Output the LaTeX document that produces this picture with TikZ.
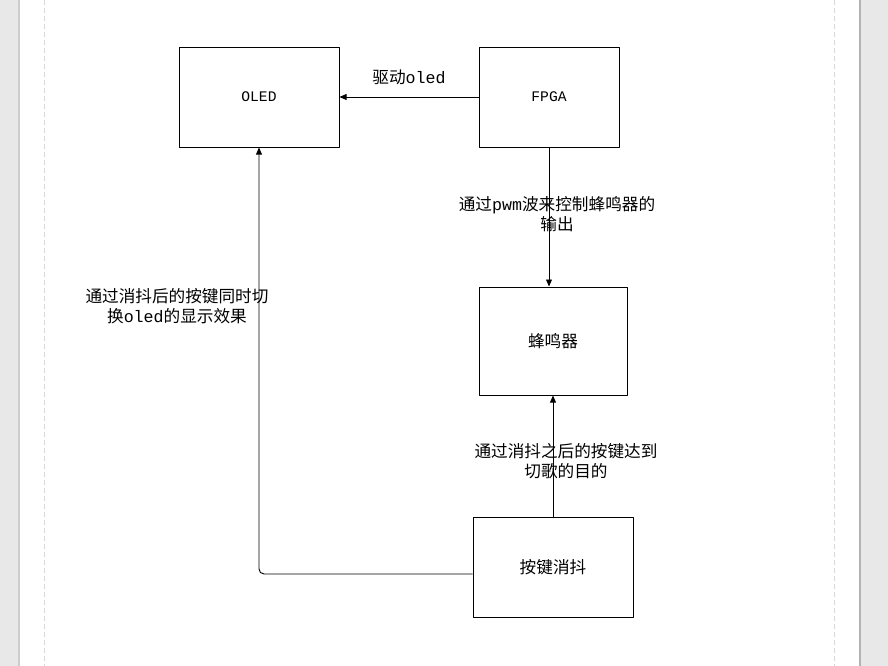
\documentclass[tikz,border=0pt]{standalone}
\usepackage{fontspec}
\setmainfont{Liberation Mono}
\newfontfamily\cjk{Noto Sans CJK SC}
\usetikzlibrary{positioning,arrows.meta}
\newcommand{\zh}[1]{{\cjk #1}}
\tikzset{
  blk/.style={draw, line width=0.8pt, inner sep=0pt},
  lbl/.style={align=center, inner sep=0pt},
  conn/.style={-{Triangle[length=6pt,width=5pt]}, line width=0.8pt},
}
\begin{document}
\begin{tikzpicture}[x=0.03cm, y=-0.03cm, line join=round,
  font=\fontsize{14.2}{17}\selectfont]
  % page
  \useasboundingbox (0,0) rectangle (888,666);
  \fill[black!9] (0,0) rectangle (888,666);
  \fill[black!20] (18,0) rectangle (20,666);
  \fill[black!30] (859,0) rectangle (861,666);
  \fill[white] (20,0) rectangle (859,666);
  \draw[black!15, line width=0.8pt, dash pattern=on 0.15cm off 0.09cm] (44,0) -- (44,666)
    (834,0) -- (834,666);
  % blocks
  \node[blk, minimum width=4.8cm, minimum height=3cm] (oled) at (259,97)
    {\fontsize{12.5}{14}\selectfont OLED};
  \node[blk, minimum width=4.2cm, minimum height=3cm] (fpga) at (549,97)
    {\fontsize{12.5}{14}\selectfont FPGA};
  \node[blk, minimum width=4.44cm, minimum height=3.24cm] (bee) at (553,341)
    {\zh{蜂鸣器}};
  \node[blk, minimum width=4.8cm, minimum height=3cm] (key) at (553,567)
    {\zh{按键消抖}};
  % connectors
  \draw[conn] (fpga) -- node[lbl, midway, yshift=0.6cm] (drv) {\zh{驱动}oled} (oled);
  \draw[conn] (fpga.south) -- node[lbl, midway, xshift=0.24cm, yshift=0.09cm] (pwm)
    {\zh{通过}pwm\zh{波来控制蜂鸣器的}\\\zh{输出}} (fpga.south |- bee.north);
  \draw[conn] (key.north) -- node[lbl, midway, xshift=0.39cm, yshift=-0.15cm] (song)
    {\zh{通过消抖之后的按键达到}\\\zh{切歌的目的}} (bee.south);
  \draw[conn, rounded corners=0.15cm] ([yshift=-0.21cm]key.west) -| (oled.south);
  \node[lbl] (sw) at (177,306) {\zh{通过消抖后的按键同时切}\\\zh{换}oled\zh{的显示效果}};
\end{tikzpicture}
\end{document}
